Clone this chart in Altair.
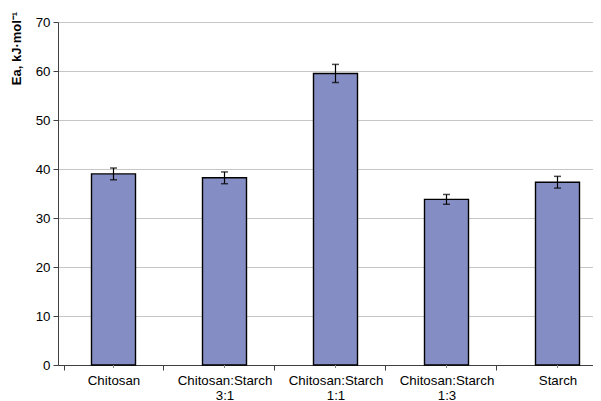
import altair as alt
import pandas as pd

categories = ["Chitosan", "Chitosan:Starch\n3:1", "Chitosan:Starch\n1:1", "Chitosan:Starch\n1:3", "Starch"]
ea_values = [39.0, 38.2, 59.5, 33.8, 37.3]
ea_errors = [1.2, 1.2, 1.85, 1.0, 1.2]

df = pd.DataFrame({"cat": categories, "ea": ea_values, "err": ea_errors})

FONT = "Liberation Sans"
FS = 13.3

x_enc = alt.X(
    "cat:N",
    sort=categories,
    scale=alt.Scale(range=[0, 555]),
    axis=alt.Axis(
        title=None,
        labelAngle=0,
        labelExpr="split(datum.label, '\\n')",
        tickBand="extent",
        tickSize=5,
        tickColor="#404040",
        domainColor="#404040",
        labelPadding=3,
        labelFontSize=FS,
        labelFont=FONT,
        labelColor="#000000",
        labelLineHeight=15,
        grid=False,
    ),
)

y_scale = alt.Scale(domain=[0, 70], nice=False)

base = alt.Chart(df)

bars = base.mark_bar(size=44, color="#858EC4", stroke="#000000", strokeWidth=1.4).encode(
    x=x_enc,
    y=alt.Y(
        "ea:Q",
        scale=y_scale,
        axis=alt.Axis(
            title="Ea, kJ·mol⁻¹",
            values=[0, 10, 20, 30, 40, 50, 60, 70],
            tickSize=5,
            tickColor="#404040",
            domainColor="#404040",
            gridColor="#c6c6c6",
            labelFontSize=FS,
            labelFont=FONT,
            labelColor="#000000",
            labelPadding=3,
            titleFont=FONT,
            titleFontSize=13,
            titleFontWeight="bold",
            titleColor="#000000",
            titleX=-42,
            titleY=26,
            titleAlign="center",
            titleBaseline="middle",
            titleAngle=-90,
        ),
    ),
)

err_base = base.transform_calculate(lo="datum.ea - datum.err", hi="datum.ea + datum.err")

err_rule = err_base.mark_rule(color="#000000", strokeWidth=1.2).encode(
    x=alt.X("cat:N", sort=categories),
    y=alt.Y("lo:Q", scale=y_scale),
    y2="hi:Q",
)
cap_lo = err_base.mark_tick(color="#000000", size=7, thickness=1.5, orient="horizontal").encode(
    x=alt.X("cat:N", sort=categories),
    y=alt.Y("lo:Q", scale=y_scale),
)
cap_hi = err_base.mark_tick(color="#000000", size=7, thickness=1.5, orient="horizontal").encode(
    x=alt.X("cat:N", sort=categories),
    y=alt.Y("hi:Q", scale=y_scale),
)

center_ticks = base.mark_rule(color="#808080", strokeWidth=1).encode(
    x=alt.X("cat:N", sort=categories),
    y=alt.value(343),
    y2=alt.value(346),
)

chart = alt.layer(bars, err_rule, cap_lo, cap_hi, center_ticks).properties(
    width=535,
    height=343,
    autosize=alt.AutoSizeParams(type="none"),
    padding={"left": 50, "top": 14, "right": 0, "bottom": 36},
).configure_view(stroke=None).configure(background="white")

chart.save("out.html", embed_options={"renderer": "svg", "actions": False})
